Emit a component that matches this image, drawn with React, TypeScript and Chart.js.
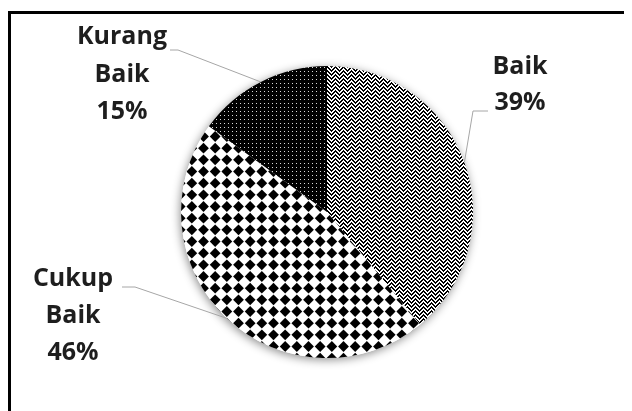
import React, { useEffect, useRef } from 'react';
import { Chart, registerables } from 'chart.js';

Chart.register(...registerables);

// ---- data ----
const categories: string[] = ['Baik', 'Cukup Baik', 'Kurang Baik'];
const values: number[] = [39, 46, 15];
const percentLabels: string[] = ['39%', '46%', '15%'];

// ---- label placement (relative to the pie centre, px) ----
const labelLayout = [
  { tx: 193, ty: -145, lineH: 36, e1: [161, -101], e2: [146, -101] },
  { tx: -254, ty: 67, lineH: 37, e1: [-205, 75], e2: [-192, 75] },
  { tx: -205, ty: -175, lineH: 37.5, e1: [-157, -162], e2: [-149, -162] },
];

function makeTile(w: number, h: number, draw: (g: CanvasRenderingContext2D) => void) {
  const c = document.createElement('canvas');
  c.width = w;
  c.height = h;
  const g = c.getContext('2d')!;
  draw(g);
  return c;
}

function makePatterns(ctx: CanvasRenderingContext2D): (CanvasPattern | string)[] {
  const zig = makeTile(8, 8, (g) => {
    g.fillStyle = '#fff';
    g.fillRect(0, 0, 8, 8);
    g.fillStyle = '#000';
    for (let x = 0; x < 8; x++) {
      for (let y = 0; y < 8; y++) {
        const f = Math.abs(x - 4);
        const m = (((y - f) % 4) + 4) % 4;
        if (m === 0 || m === 1) g.fillRect(x, y, 1, 1);
      }
    }
  });
  const diamonds = makeTile(35, 35, (g) => {
    g.fillStyle = '#fff';
    g.fillRect(0, 0, 35, 35);
    g.fillStyle = '#000';
    const step = 35 / 3;
    const hs = 5.4;
    for (let i = 0; i < 3; i++) {
      for (let j = 0; j < 3; j++) {
        const cx = step / 2 + i * step;
        const cy = step / 2 + j * step;
        g.beginPath();
        g.moveTo(cx, cy - hs);
        g.lineTo(cx + hs, cy);
        g.lineTo(cx, cy + hs);
        g.lineTo(cx - hs, cy);
        g.closePath();
        g.fill();
      }
    }
  });
  const dots = makeTile(4, 4, (g) => {
    g.fillStyle = '#000';
    g.fillRect(0, 0, 4, 4);
    g.fillStyle = 'rgba(255,255,255,0.85)';
    g.fillRect(1, 1, 1, 1);
  });
  return [
    ctx.createPattern(zig, 'repeat') || '#888',
    ctx.createPattern(diamonds, 'repeat') || '#888',
    ctx.createPattern(dots, 'repeat') || '#111',
  ];
}

const shadowPlugin = {
  id: 'pieShadow',
  beforeDatasetsDraw(chart: any) {
    const arc = chart.getDatasetMeta(0).data[0];
    if (!arc) return;
    const ctx = chart.ctx as CanvasRenderingContext2D;
    ctx.save();
    ctx.shadowColor = 'rgba(0,0,0,0.45)';
    ctx.shadowBlur = 10;
    ctx.shadowOffsetX = -1;
    ctx.shadowOffsetY = 2;
    ctx.fillStyle = '#fff';
    ctx.beginPath();
    ctx.arc(arc.x, arc.y, arc.outerRadius, 0, Math.PI * 2);
    ctx.fill();
    ctx.restore();
  },
};

const labelPlugin = {
  id: 'outerLabels',
  afterDatasetsDraw(chart: any) {
    const meta = chart.getDatasetMeta(0);
    const ctx = chart.ctx as CanvasRenderingContext2D;
    meta.data.forEach((arc: any, i: number) => {
      const lay = labelLayout[i];
      const cx = arc.x;
      const cy = arc.y;
      const mid = (arc.startAngle + arc.endAngle) / 2;
      const ax = cx + arc.outerRadius * Math.cos(mid);
      const ay = cy + arc.outerRadius * Math.sin(mid);
      ctx.save();
      ctx.strokeStyle = '#a6a6a6';
      ctx.lineWidth = 1;
      ctx.beginPath();
      ctx.moveTo(cx + lay.e1[0], cy + lay.e1[1]);
      ctx.lineTo(cx + lay.e2[0], cy + lay.e2[1]);
      ctx.lineTo(ax, ay);
      ctx.stroke();
      const lines = [...categories[i].split(' '), percentLabels[i]];
      ctx.fillStyle = '#1e1e1e';
      ctx.font = 'bold 25px "Open Sans"';
      ctx.textAlign = 'center';
      ctx.textBaseline = 'middle';
      lines.forEach((t, k) => {
        ctx.fillText(t, cx + lay.tx, cy + lay.ty + k * lay.lineH);
      });
      ctx.restore();
    });
  },
};

export default function App() {
  const ref = useRef<HTMLCanvasElement | null>(null);
  useEffect(() => {
    document.documentElement.style.overflow = 'hidden';
    document.body.style.overflow = 'hidden';
    const canvas = ref.current;
    if (!canvas) return;
    const ctx = canvas.getContext('2d')!;
    const patterns = makePatterns(ctx);
    const chart = new Chart(canvas, {
      type: 'pie',
      data: {
        labels: categories,
        datasets: [
          {
            data: values,
            backgroundColor: patterns as any,
            borderWidth: 0,
          },
        ],
      },
      options: {
        responsive: false,
        animation: false,
        layout: { padding: { top: 52, bottom: 53, left: 11, right: 0 } },
        plugins: {
          legend: { display: false },
          tooltip: { enabled: false },
        },
      },
      plugins: [shadowPlugin, labelPlugin],
    });
    return () => chart.destroy();
  }, []);
  return (
    <div style={{ paddingTop: 3 }}>
      <div
        style={{
          borderTop: '3px solid #000',
          borderLeft: '3px solid #000',
          width: 621,
          height: 397,
          background: '#fff',
        }}
      >
        <canvas ref={ref} width={621} height={397} style={{ display: 'block' }} />
      </div>
    </div>
  );
}
